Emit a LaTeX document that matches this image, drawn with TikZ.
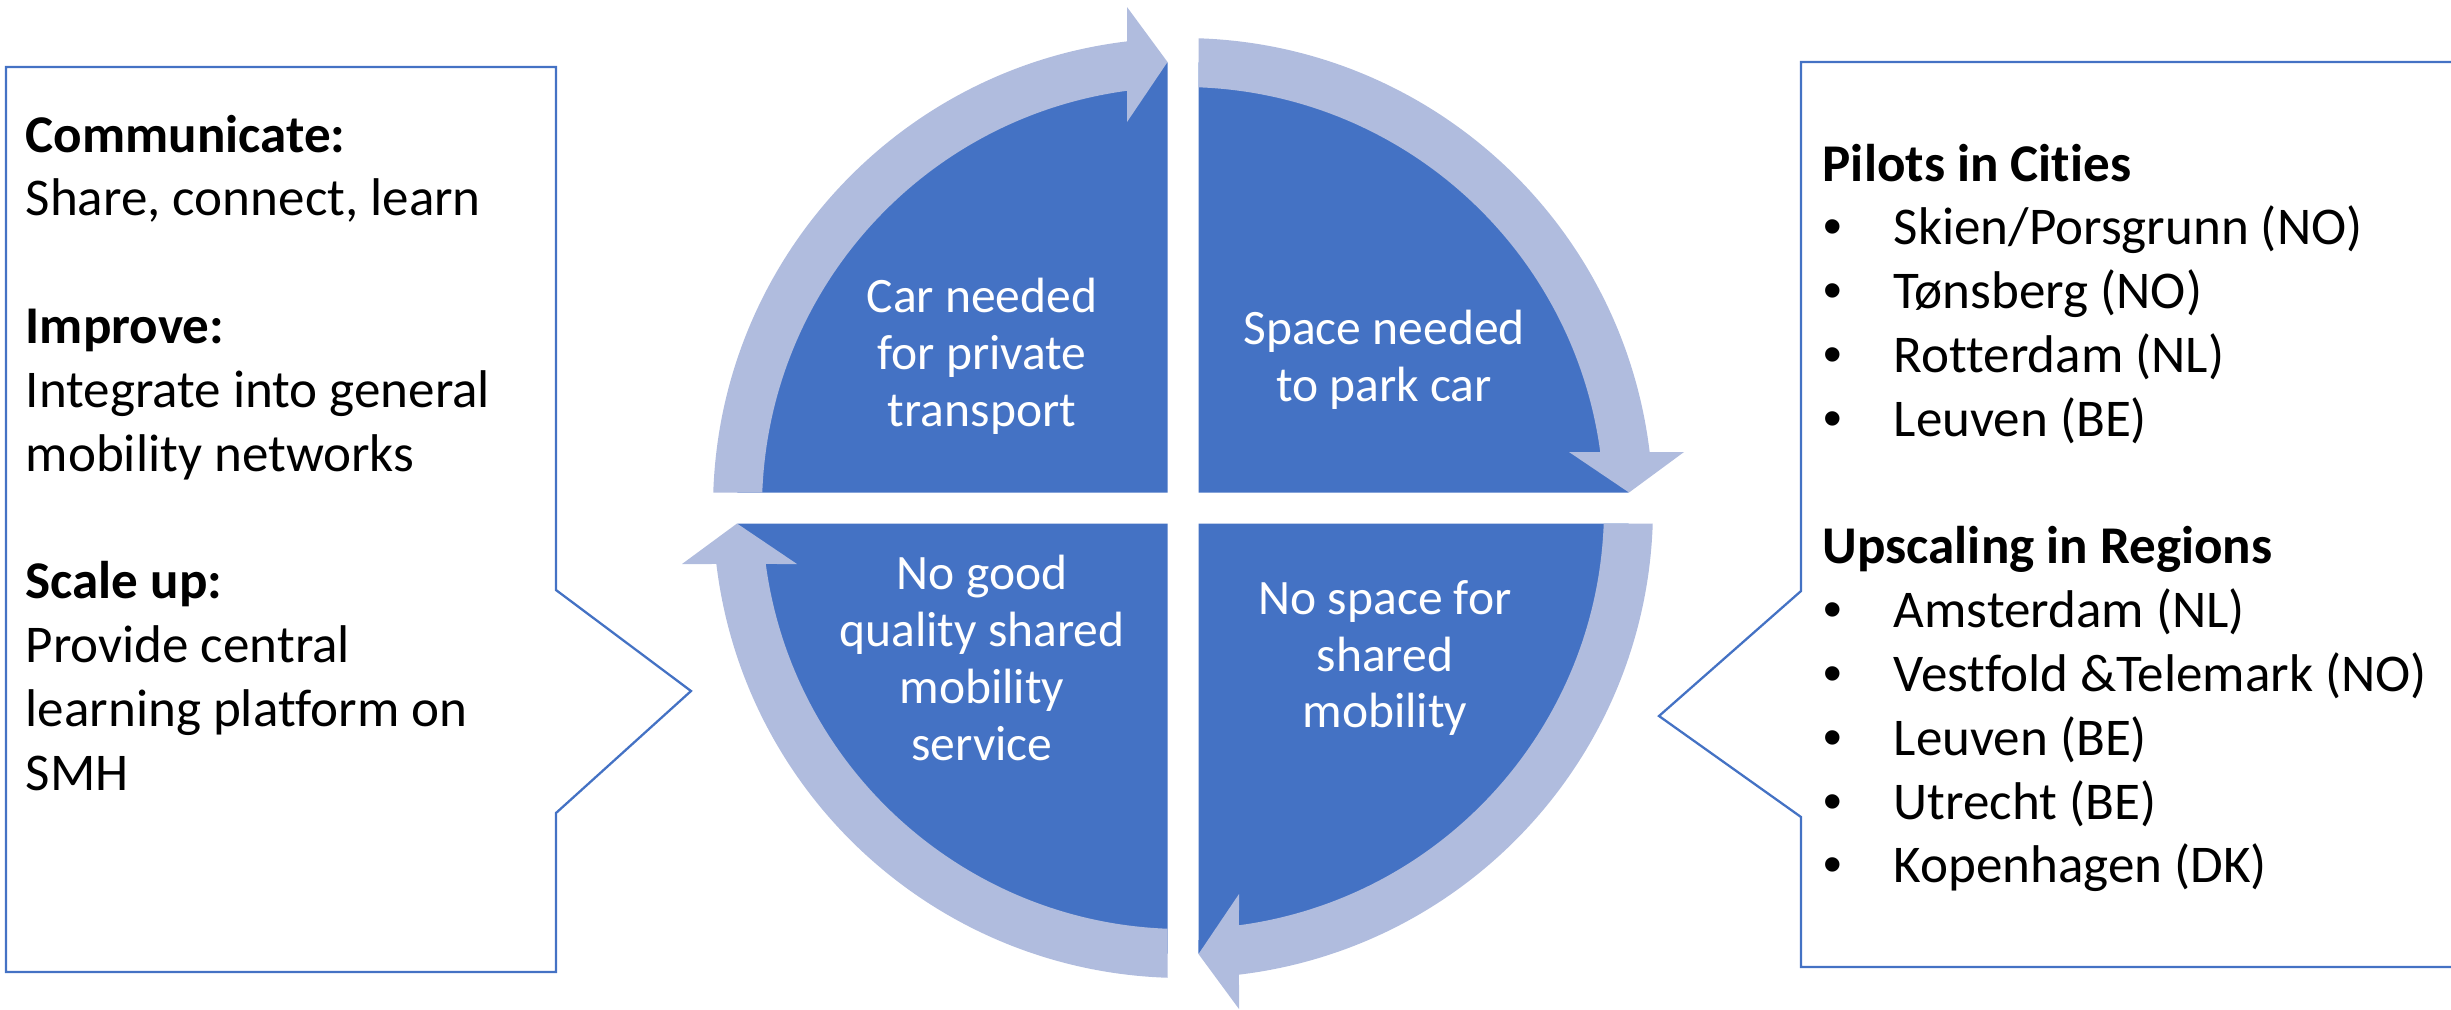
\documentclass[tikz,border=0pt]{standalone}
\usepackage{fontspec}
\setmainfont[Ligatures={NoCommon}]{Carlito}
\newfontfamily\bulfont{Liberation Sans}
\definecolor{cycblue}{RGB}{68,114,196}
\definecolor{cycring}{RGB}{176,188,222}
\begin{document}
\begin{tikzpicture}[line join=miter,
  boxline/.style={draw=cycblue,line width=0.65pt},
  boxtxt/.style={anchor=base west,inner sep=0pt,font=\fontsize{15.1}{18.2}\selectfont},
  bullet/.style={anchor=base,inner sep=0pt,font=\bulfont\fontsize{15.1}{18.2}\selectfont},
  quadtxt/.style={align=center,text=white,inner sep=0pt,font=\fontsize{14.1}{16.2}\selectfont}]
  \useasboundingbox (0,0) rectangle (24.51,-10.09);
  \coordinate (C) at (11.83,-5.08);
  % four quarters, each with its ring arrow
  \foreach \k in {0,1,2,3}{
    \begin{scope}[shift={(C)},rotate=-90*\k]
      \fill[cycblue] (-0.155,0.155) -- (91.99:4.46) arc[start angle=91.99,end angle=178.01,radius=4.46] -- cycle;
      \fill[cycring] (178.11:4.70) arc[start angle=178.11,end angle=96.84,radius=4.70]
        -- (-0.56,5.01) -- (-0.155,4.46) -- (-0.56,3.86)
        -- (97.64:4.21) arc[start angle=97.64,end angle=177.89,radius=4.21] -- cycle;
    \end{scope}
  }
  \node[quadtxt] (carneed) at (9.82,-3.56) {Car needed\\for private\\transport};
  \node[quadtxt] (spaceneed) at (13.84,-3.60) {Space needed\\to park car};
  \node[quadtxt] (nogood) at (9.82,-6.58) {No good\\quality shared\\mobility\\service};
  \node[quadtxt] (nospace) at (13.85,-6.58) {No space for\\shared\\mobility};
  % callouts
  \draw[boxline] (0.06,-0.67) -- (5.56,-0.67) -- (5.56,-5.90) -- (6.91,-6.91)
    -- (5.56,-8.13) -- (5.56,-9.72) -- (0.06,-9.72) -- cycle;
  \draw[boxline] (24.8,-0.62) -- (18.01,-0.62) -- (18.01,-5.91) -- (16.59,-7.16)
    -- (18.01,-8.17) -- (18.01,-9.67) -- (24.8,-9.67);
  \foreach \i/\txt in {0/\textbf{Communicate:},1/{Share, connect, learn},
      3/\textbf{Improve:},4/Integrate into general,5/mobility networks,
      7/\textbf{Scale up:},8/Provide central,9/learning platform on,10/SMH}
    \node[boxtxt] (l\i) at (0.25,{-1.52-0.638*\i}) {\txt};
  \node[boxtxt] (pilots) at (18.22,-1.81) {\textbf{Pilots in Cities}};
  \node[boxtxt] (upscale) at (18.22,{-1.81-0.638*6}) {\textbf{Upscaling in Regions}};
  \foreach \i/\txt in {1/{Skien/Porsgrunn (NO)},2/Tønsberg (NO),3/Rotterdam (NL),4/Leuven (BE),
      7/Amsterdam (NL),8/Vestfold \&Telemark (NO),9/Leuven (BE),10/Utrecht (BE),11/Kopenhagen (DK)}{
    \node[bullet] (b\i) at (18.33,{-1.81-0.638*\i}) {\textbullet};
    \node[boxtxt] (r\i) at (18.93,{-1.81-0.638*\i}) {\txt};
  }
\end{tikzpicture}
\end{document}
